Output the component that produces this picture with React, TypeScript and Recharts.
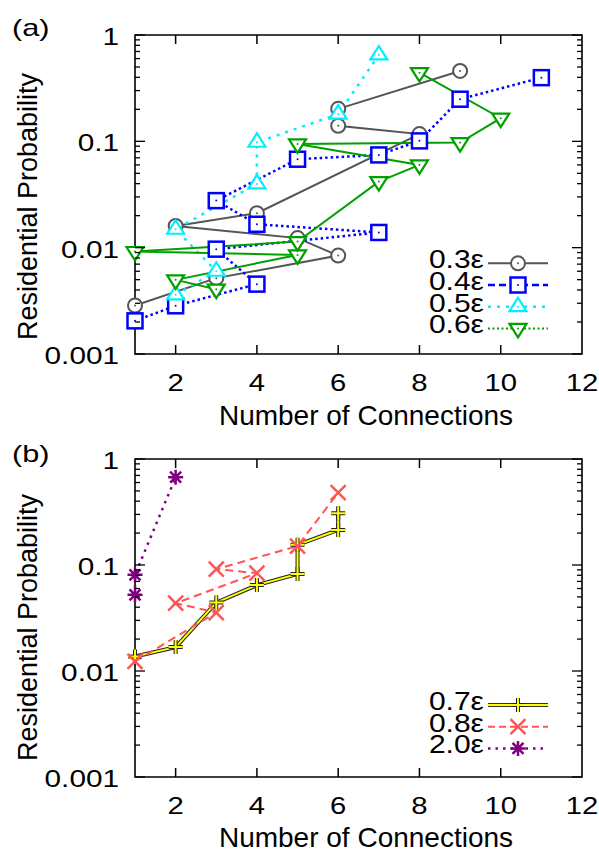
import React from 'react'
import { LineChart, Line, XAxis, YAxis, Legend, ReferenceArea } from 'recharts'

const FONT = '"Liberation Sans", Arial, Helvetica, sans-serif'

// panel (a): number of connections / residential probability, in plotted order
const conn03 = [1, 3, 6, 5, 2, 4, 8, 6, 6, 9]
const prob03 = [0.00286, 0.00517, 0.00843, 0.0123, 0.016, 0.0211, 0.117, 0.14, 0.202, 0.459]
const conn04 = [1, 2, 4, 3, 7, 4, 3, 5, 7, 8, 9, 11]
const prob04 = [0.00205, 0.00284, 0.00454, 0.00968, 0.0139, 0.0166, 0.0277, 0.0679, 0.0745, 0.101, 0.249, 0.397]
const conn05 = [2, 3, 2, 4, 4, 6, 7]
const prob05 = [0.0036, 0.006, 0.0149, 0.0398, 0.098, 0.18, 0.649]
const conn06 = [3, 2, 5, 1, 5, 7, 8, 5, 9, 10, 8]
const prob06 = [0.00407, 0.00498, 0.00855, 0.0092, 0.0114, 0.0418, 0.06, 0.0946, 0.0973, 0.165, 0.442]

// panel (b)
const conn07 = [1, 2, 3, 4, 5, 5, 6, 6]
const prob07 = [0.0137, 0.0168, 0.0442, 0.0646, 0.0824, 0.155, 0.214, 0.308]
const conn08 = [1, 3, 2, 4, 3, 5, 6]
const prob08 = [0.0123, 0.0356, 0.0436, 0.0837, 0.0913, 0.151, 0.481]
const conn20 = [1, 1, 2]
const prob20 = [0.0523, 0.0807, 0.673]

const xTicks = [2, 4, 6, 8, 10, 12]
const yMajor = [0.001, 0.01, 0.1, 1]
const yMinorSteps = [2, 3, 4, 5, 6, 7, 8, 9]
const yTicks = [
  ...yMajor,
  ...yMajor.slice(0, 3).flatMap((m) => yMinorSteps.map((s) => +(m * s).toPrecision(3))),
]

const W = 599
const PANEL_H = 425
const PLOT_RIGHT = 582

const pts = (xs: number[], ys: number[]) => xs.map((x, i) => ({ x, y: ys[i] }))

// gnuplot-ish wide text: a normal font stretched horizontally
const Wide = ({ x, y, size, sx, anchor, children }: any) => (
  <text
    transform={`translate(${x} ${y}) scale(${sx} 1)`}
    textAnchor={anchor}
    fontSize={size}
    fontFamily={FONT}
    fill="#000"
  >
    {children}
  </text>
)

type Kind = 'circle' | 'square' | 'triUp' | 'triDown' | 'plus' | 'cross' | 'star'

const Marker = ({ kind, cx, cy, color }: { kind: Kind; cx: number; cy: number; color: string }) => {
  const dot = <circle cx={cx} cy={cy} r={1} fill={color} />
  switch (kind) {
    case 'circle':
      return (
        <g>
          <circle cx={cx} cy={cy} r={7} fill="#fff" stroke={color} strokeWidth={2} />
          {dot}
        </g>
      )
    case 'square':
      return (
        <g>
          <rect x={cx - 7.5} y={cy - 7.5} width={15} height={15} fill="#fff" stroke={color} strokeWidth={2.5} />
          {dot}
        </g>
      )
    case 'triUp':
      return (
        <g>
          <polygon
            points={`${cx},${cy - 9} ${cx - 8.5},${cy + 4.5} ${cx + 8.5},${cy + 4.5}`}
            fill="#fff"
            stroke={color}
            strokeWidth={2.2}
          />
          {dot}
        </g>
      )
    case 'triDown':
      return (
        <g>
          <polygon
            points={`${cx},${cy + 9} ${cx - 8.5},${cy - 4.5} ${cx + 8.5},${cy - 4.5}`}
            fill="#fff"
            stroke={color}
            strokeWidth={2.2}
          />
          {dot}
        </g>
      )
    case 'plus': {
      const d = `M${cx - 7},${cy}H${cx + 7}M${cx},${cy - 7}V${cy + 7}`
      return (
        <g>
          <path d={d} stroke="#222" strokeWidth={4} />
          <path d={d} stroke={color} strokeWidth={2} />
        </g>
      )
    }
    case 'cross':
      return (
        <path
          d={`M${cx - 7.5},${cy - 7.5}L${cx + 7.5},${cy + 7.5}M${cx + 7.5},${cy - 7.5}L${cx - 7.5},${cy + 7.5}`}
          stroke={color}
          strokeWidth={2.5}
        />
      )
    case 'star':
      return (
        <path
          d={`M${cx - 7.5},${cy}H${cx + 7.5}M${cx},${cy - 7.5}V${cy + 7.5}M${cx - 5.5},${cy - 5.5}L${cx + 5.5},${cy + 5.5}M${cx + 5.5},${cy - 5.5}L${cx - 5.5},${cy + 5.5}`}
          stroke={color}
          strokeWidth={2.5}
        />
      )
  }
}

interface Series {
  name: string
  data: { x: number; y: number }[]
  color: string
  width: number
  dash?: string
  legendDash?: string
  kind: Kind
  outline?: boolean
}

const seriesA: Series[] = [
  { name: '0.3ε', data: pts(conn03, prob03), color: '#555555', width: 2, kind: 'circle' },
  { name: '0.4ε', data: pts(conn04, prob04), color: '#0000ff', width: 2.5, dash: '2.5 3', legendDash: '7 4', kind: 'square' },
  { name: '0.5ε', data: pts(conn05, prob05), color: '#00eeff', width: 2.5, dash: '3 6', legendDash: '3 6', kind: 'triUp' },
  { name: '0.6ε', data: pts(conn06, prob06), color: '#00a000', width: 2, legendDash: '2 2.5', kind: 'triDown' },
]

const seriesB: Series[] = [
  { name: '0.7ε', data: pts(conn07, prob07), color: '#ffff00', width: 2, kind: 'plus', outline: true },
  { name: '0.8ε', data: pts(conn08, prob08), color: '#ff5555', width: 2, dash: '8 5', legendDash: '7 4', kind: 'cross' },
  { name: '2.0ε', data: pts(conn20, prob20), color: '#800080', width: 2.5, dash: '2.5 5', legendDash: '2.5 5', kind: 'star' },
]

const makeXTick = (plotTop: number) => (props: any) => {
  const { x, y, payload } = props
  return (
    <g>
      {payload.value < 12 && (
        <>
          <line x1={x} x2={x} y1={y} y2={y - 9} stroke="#000" strokeWidth={1.5} />
          <line x1={x} x2={x} y1={plotTop} y2={plotTop + 9} stroke="#000" strokeWidth={1.5} />
        </>
      )}
      <Wide x={x} y={y + 37} size={24} sx={1.22} anchor="middle">
        {payload.value}
      </Wide>
    </g>
  )
}

const YTick = (props: any) => {
  const { x, y, payload } = props
  const v = payload.value
  const major = yMajor.includes(v)
  const len = major ? 10 : 5
  return (
    <g>
      <line x1={x} x2={x + len} y1={y} y2={y} stroke="#000" strokeWidth={1.3} />
      <line x1={PLOT_RIGHT - len} x2={PLOT_RIGHT} y1={y} y2={y} stroke="#000" strokeWidth={1.3} />
      {major && (
        <Wide x={x - 16} y={y + 10} size={24} sx={1.24} anchor="end">
          {String(v)}
        </Wide>
      )}
    </g>
  )
}

const makeLegend = (items: Series[], firstY: number) => () => (
  <svg width={160} height={110} style={{ overflow: 'visible', display: 'block' }}>
    {items.map((s, i) => {
      const cy = firstY + i * 21.7
      return (
        <g key={s.name}>
          <Wide x={84} y={cy + 5} size={25} sx={1.2} anchor="end">
            {s.name}
          </Wide>
          {s.outline && <line x1={88} x2={148} y1={cy} y2={cy} stroke="#333" strokeWidth={4} />}
          <line x1={88} x2={148} y1={cy} y2={cy} stroke={s.color} strokeWidth={s.width} strokeDasharray={s.legendDash} />
          <Marker kind={s.kind} cx={118} cy={cy} color={s.color} />
        </g>
      )
    })}
  </svg>
)

const Panel = ({ series, top, xHeight, legendTop, legendFirstY }: {
  series: Series[]
  top: number
  xHeight: number
  legendTop: number
  legendFirstY: number
}) => (
  <LineChart width={W} height={PANEL_H} margin={{ top, right: W - PLOT_RIGHT, bottom: 0, left: 0 }}>
    <XAxis
      type="number"
      dataKey="x"
      domain={[1, 12]}
      ticks={xTicks}
      interval={0}
      height={xHeight}
      axisLine={false}
      tickLine={false}
      tickSize={0}
      tickMargin={0}
      tick={makeXTick(top)}
    />
    <YAxis
      type="number"
      dataKey="y"
      scale="log"
      domain={[0.001, 1]}
      ticks={yTicks}
      interval={0}
      width={135}
      axisLine={false}
      tickLine={false}
      tickSize={0}
      tickMargin={0}
      tick={YTick}
    />
    <ReferenceArea x1={1} x2={12} y1={0.001} y2={1} fill="none" stroke="#000" strokeWidth={1.6} ifOverflow="visible" />
    {series.flatMap((s) => {
      const lines = []
      if (s.outline) {
        lines.push(
          <Line
            key={s.name + '-edge'}
            data={s.data}
            dataKey="y"
            type="linear"
            stroke="#222"
            strokeWidth={4}
            dot={false}
            activeDot={false}
            legendType="none"
            isAnimationActive={false}
          />
        )
      }
      lines.push(
        <Line
          key={s.name}
          name={s.name}
          data={s.data}
          dataKey="y"
          type="linear"
          stroke={s.color}
          strokeWidth={s.width}
          strokeDasharray={s.dash}
          dot={(p: any) => <Marker key={`${s.name}-${p.index}`} kind={s.kind} cx={p.cx} cy={p.cy} color={s.color} />}
          activeDot={false}
          isAnimationActive={false}
        />
      )
      return lines
    })}
    <Legend
      layout="vertical"
      align="center"
      verticalAlign="middle"
      content={makeLegend(series, legendFirstY)}
      wrapperStyle={{ left: 400, top: legendTop, width: 160, height: 110 }}
    />
  </LineChart>
)

export default function App() {
  return (
    <div style={{ position: 'absolute', left: 0, top: 0, width: W, height: 850, background: '#fff', fontFamily: FONT }}>
      <div style={{ position: 'absolute', left: 0, top: 0 }}>
        <Panel series={seriesA} top={35} xHeight={71} legendTop={245} legendFirstY={18.3} />
      </div>
      <div style={{ position: 'absolute', left: 0, top: PANEL_H }}>
        <Panel series={seriesB} top={34} xHeight={73} legendTop={255} legendFirstY={25} />
      </div>
      <svg width={W} height={850} style={{ position: 'absolute', left: 0, top: 0, pointerEvents: 'none' }}>
        <g fontFamily={FONT} fill="#000">
          <Wide x={12} y={36} size={24} sx={1.28} anchor="start">(a)</Wide>
          <Wide x={12} y={461.5} size={24} sx={1.28} anchor="start">(b)</Wide>
          <text x={36.5} y={206.5} fontSize={27} textAnchor="middle" transform="rotate(-90 36.5 206.5)">
            Residential Probability
          </text>
          <text x={36.5} y={627.5} fontSize={27} textAnchor="middle" transform="rotate(-90 36.5 627.5)">
            Residential Probability
          </text>
          <text x={366} y={425} fontSize={28} textAnchor="middle">Number of Connections</text>
          <text x={366} y={847} fontSize={28} textAnchor="middle">Number of Connections</text>
        </g>
      </svg>
    </div>
  )
}
